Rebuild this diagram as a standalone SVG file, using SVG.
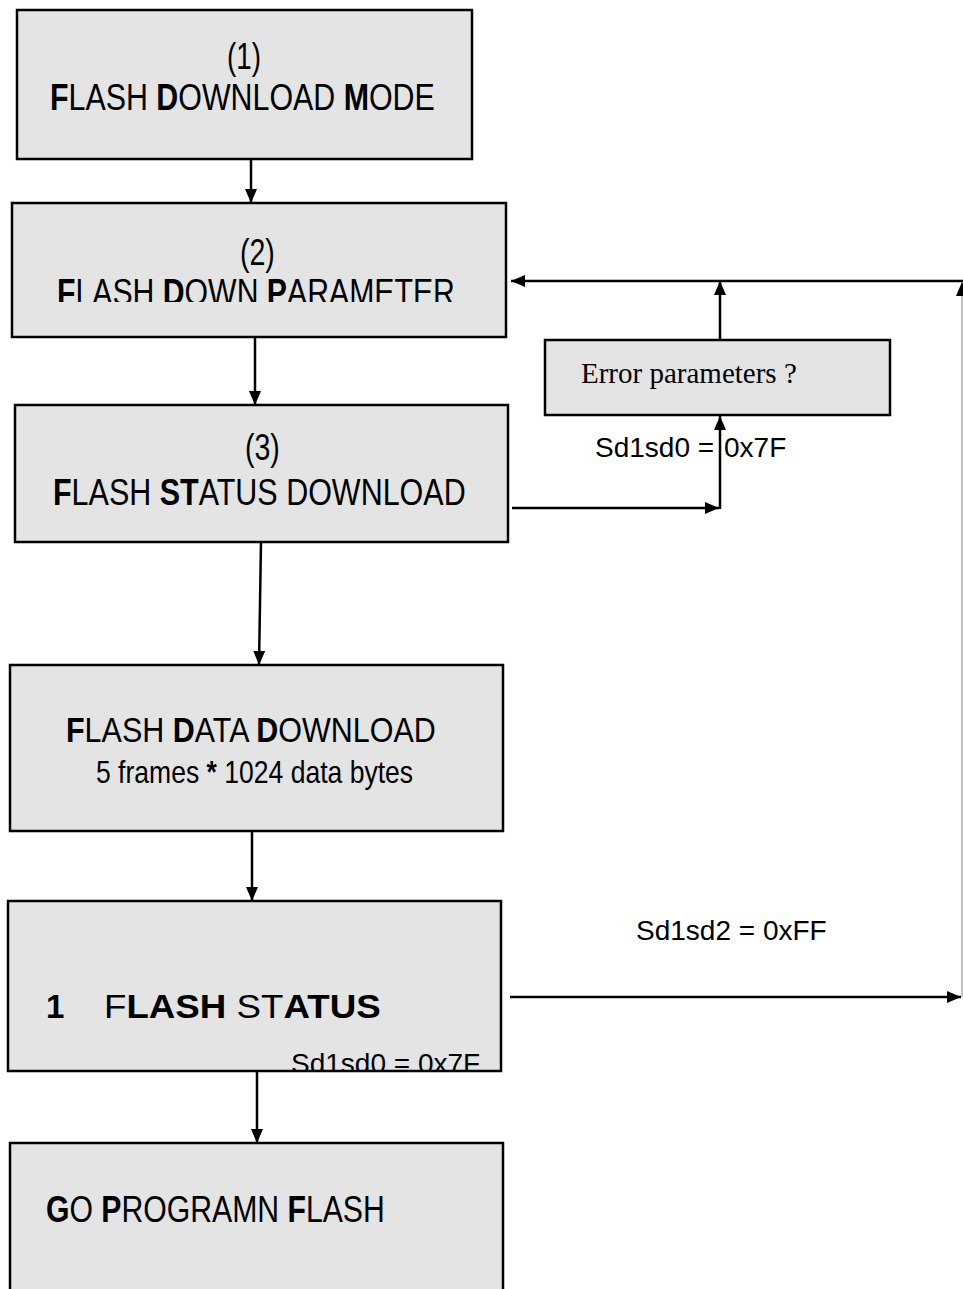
<svg xmlns="http://www.w3.org/2000/svg" width="963" height="1289" viewBox="0 0 963 1289">
<style>
.box{fill:#e4e4e4;stroke:#000;stroke-width:2.5}
.t{font-family:"Liberation Sans",Arial,sans-serif;font-size:37px;fill:#000}
.s{font-family:"Liberation Sans",Arial,sans-serif;font-size:28px;fill:#000}
.b{font-weight:bold}
.c{stroke:#000;stroke-width:2.5;fill:none}
</style>
<defs>
<marker id="ah" markerWidth="14" markerHeight="12" refX="14" refY="6" orient="auto" markerUnits="userSpaceOnUse"><path d="M0,0 L14,6 L0,12 Z" fill="#000"/></marker>
<clipPath id="c2"><rect x="0" y="200" width="520" height="102"/></clipPath>
<clipPath id="c5"><rect x="0" y="1040" width="520" height="30"/></clipPath>
</defs>
<rect width="963" height="1289" fill="#fff"/>
<g id="n1"><rect class="box" x="17" y="10" width="455" height="149"/>
<text class="t" transform="translate(227,69) scale(0.75,1)">(1)</text>
<text class="t" transform="translate(50,110) scale(0.821,1)"><tspan class="b">F</tspan>LASH <tspan class="b">D</tspan>OWNLOAD <tspan class="b">M</tspan>ODE</text></g>
<g id="n2"><rect class="box" x="12" y="203" width="494" height="134"/>
<text class="t" transform="translate(240,265) scale(0.77,1)">(2)</text>
<g clip-path="url(#c2)"><text class="t" transform="translate(57,305) scale(0.817,1)"><tspan class="b">F</tspan>LASH <tspan class="b">D</tspan>OWN <tspan class="b">P</tspan>ARAMETER</text></g></g>
<g id="n3"><rect class="box" x="15" y="405" width="493" height="137"/>
<text class="t" transform="translate(245,460) scale(0.77,1)">(3)</text>
<text class="t" transform="translate(53,505) scale(0.824,1)"><tspan class="b">F</tspan>LASH <tspan class="b">ST</tspan>ATUS DOWNLOAD</text></g>
<g id="n4"><rect class="box" x="10" y="665" width="493" height="166"/>
<text class="t" style="font-size:35px" transform="translate(66,742) scale(0.871,1)"><tspan class="b">F</tspan>LASH <tspan class="b">D</tspan>ATA <tspan class="b">D</tspan>OWNLOAD</text>
<text class="t" style="font-size:31px" transform="translate(96,783) scale(0.856,1)">5 frames <tspan class="b">*</tspan> 1024 data bytes</text></g>
<g id="n5"><rect class="box" x="8" y="901" width="493" height="170"/>
<text class="t b" x="46" y="1018" style="font-size:33px">1</text>
<text class="t" style="font-size:34px" transform="translate(104,1018) scale(1.08,1)">F<tspan class="b">LASH</tspan> ST<tspan class="b">ATUS</tspan></text>
<g clip-path="url(#c5)"><text class="s" x="291" y="1073">Sd1sd0 = 0x7F</text></g></g>
<g id="n6"><rect class="box" x="10" y="1143" width="493" height="150"/>
<text class="t" transform="translate(46,1222) scale(0.816,1)"><tspan class="b">G</tspan>O <tspan class="b">P</tspan>ROGRAMN <tspan class="b">F</tspan>LASH</text></g>
<g id="n7"><rect class="box" x="545" y="340" width="345" height="75"/>
<text x="581" y="383" font-family="'Liberation Serif','Times New Roman',serif" font-size="29">Error parameters ?</text></g>
<g id="connectors">
<line class="c" x1="251" y1="159" x2="251" y2="203" marker-end="url(#ah)"/>
<line class="c" x1="255" y1="337" x2="255" y2="405" marker-end="url(#ah)"/>
<line class="c" x1="261" y1="542" x2="259" y2="665" marker-end="url(#ah)"/>
<line class="c" x1="252" y1="831" x2="252" y2="901" marker-end="url(#ah)"/>
<line class="c" x1="257" y1="1071" x2="257" y2="1143" marker-end="url(#ah)"/>
<line class="c" x1="512" y1="508" x2="719" y2="508" marker-end="url(#ah)"/>
<line class="c" x1="720" y1="509" x2="720" y2="416" marker-end="url(#ah)"/>
<line class="c" x1="720" y1="340" x2="720" y2="281" marker-end="url(#ah)"/>
<line class="c" x1="963" y1="281" x2="511" y2="281" marker-end="url(#ah)"/>
<line x1="962" y1="997" x2="962" y2="282" stroke="#999" stroke-width="1.2" marker-end="url(#ah)"/>
<line class="c" x1="510" y1="997" x2="961" y2="997" marker-end="url(#ah)"/>
</g>
<g id="labels">
<text class="s" x="595" y="457">Sd1sd0 =</text>
<text class="s" x="724" y="457">0x7F</text>
<text class="s" x="636" y="940">Sd1sd2 = 0xFF</text>
</g>
</svg>
